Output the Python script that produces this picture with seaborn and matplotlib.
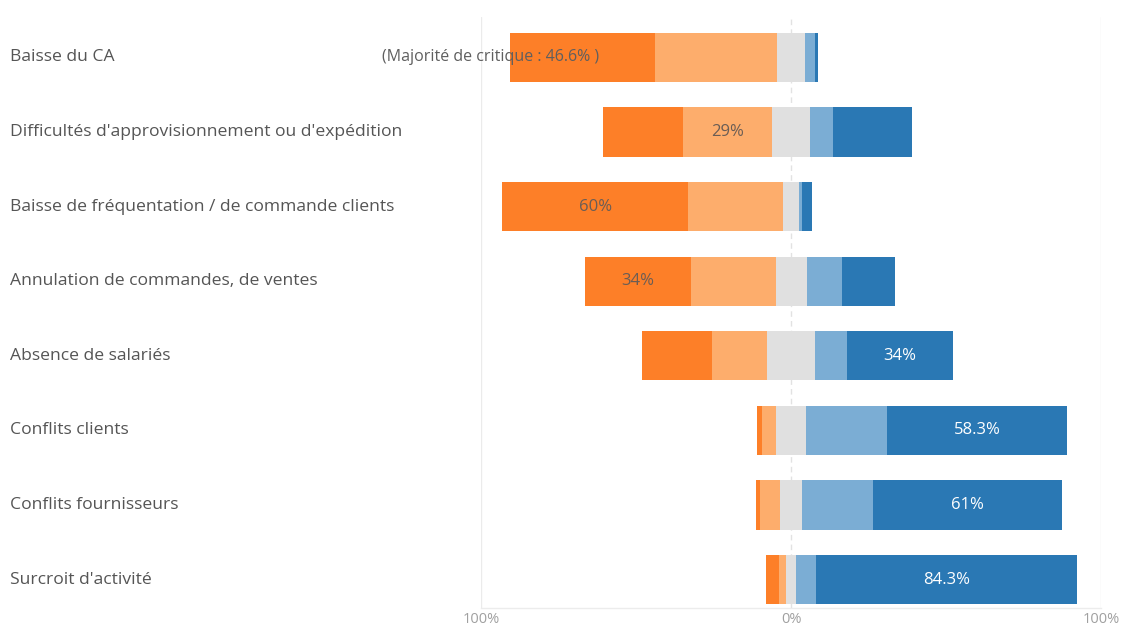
import matplotlib
matplotlib.use("Agg")
import matplotlib.pyplot as plt
import matplotlib.transforms as mtransforms
import pandas as pd
import seaborn as sns

# Données (en %)
categories = [
    "Baisse du CA",
    "Difficultés d'approvisionnement ou d'expédition",
    "Baisse de fréquentation / de commande clients",
    "Annulation de commandes, de ventes",
    "Absence de salariés",
    "Conflits clients",
    "Conflits fournisseurs",
    "Surcroit d'activité",
]
tres_negatif = [46.6, 25.8, 60.0, 34.0, 22.6, 1.4, 1.4, 4.1]
negatif = [39.4, 29.0, 30.5, 27.4, 17.7, 4.5, 6.5, 2.4]
neutre = [9.0, 12.0, 5.2, 10.0, 15.3, 9.9, 7.1, 3.0]
positif = [3.2, 7.5, 1.0, 11.5, 10.5, 25.9, 23.0, 6.5]
tres_positif = [1.0, 25.4, 3.2, 16.9, 34.0, 58.3, 61.0, 84.3]

# Étiquettes affichées dans les barres
etiquettes = ["", "29%", "60%", "34%", "34%", "58.3%", "61%", "84.3%"]
segments_etiquetes = [None, "negatif", "tres_negatif", "tres_negatif",
                      "tres_positif", "tres_positif", "tres_positif", "tres_positif"]
note_majorite = "(Majorité de critique : 46.6% )"

COULEURS = {
    "tres_negatif": "#fd7f28",
    "negatif": "#fdad6c",
    "neutre": "#e0e0e0",
    "positif": "#7badd4",
    "tres_positif": "#2a78b4",
}

sns.set_style("white")
plt.rcParams["font.family"] = ["Open Sans", "DejaVu Sans"]

df = pd.DataFrame({
    "categorie": categories,
    "tres_negatif": tres_negatif,
    "negatif": negatif,
    "neutre": neutre,
    "positif": positif,
    "tres_positif": tres_positif,
})
# Bornes cumulées de part et d'autre de 0 (le neutre est centré sur 0)
df["demi_neutre"] = df["neutre"] / 2
df["fin_negatif"] = -(df["demi_neutre"] + df["negatif"])
df["fin_tres_negatif"] = df["fin_negatif"] - df["tres_negatif"]
df["fin_positif"] = df["demi_neutre"] + df["positif"]
df["fin_tres_positif"] = df["fin_positif"] + df["tres_positif"]

fig = plt.figure(figsize=(11.21, 6.27), dpi=100)
ax = fig.add_axes([481 / 1121, 1 - 608 / 627, 620 / 1121, (608 - 17) / 627])

largeur = 0.66
couches = [
    ("fin_tres_negatif", "tres_negatif"),
    ("fin_negatif", "negatif"),
    ("fin_tres_positif", "tres_positif"),
    ("fin_positif", "positif"),
]
for col, seg in couches:
    sns.barplot(data=df, x=col, y="categorie", order=categories, orient="h",
                color=COULEURS[seg], saturation=1, width=largeur,
                linewidth=0, ax=ax)
# neutre : de -n/2 à +n/2
df["neg_demi_neutre"] = -df["demi_neutre"]
for col in ["demi_neutre", "neg_demi_neutre"]:
    sns.barplot(data=df, x=col, y="categorie", order=categories, orient="h",
                color=COULEURS["neutre"], saturation=1, width=largeur,
                linewidth=0, ax=ax)

# Grille verticale
for xv in (-100, 100):
    ax.axvline(xv, color="#ebebeb", lw=1, zorder=0)
ax.axvline(0, color="#e2e2e2", lw=1, ls=(0, (4, 3)), zorder=0)

# Étiquettes de valeurs
centres = {
    "tres_negatif": (df["fin_tres_negatif"] + df["fin_negatif"]) / 2,
    "negatif": (df["fin_negatif"] - df["demi_neutre"]) / 2,
    "positif": (df["demi_neutre"] + df["fin_positif"]) / 2,
    "tres_positif": (df["fin_positif"] + df["fin_tres_positif"]) / 2,
}
for i, (txt, seg) in enumerate(zip(etiquettes, segments_etiquetes)):
    if not txt:
        continue
    coul = "white" if seg in ("tres_positif", "positif") else "#6a5d55"
    ax.text(centres[seg][i], i, txt, ha="center", va="center",
            fontsize=12, color=coul)

ax.text(-96.8, 0, note_majorite, ha="center", va="center",
        fontsize=11.5, color="#5f5f5f")

# Libellés des catégories alignés à gauche
trans = mtransforms.blended_transform_factory(fig.transFigure, ax.transData)
for i, cat in enumerate(categories):
    ax.text(10 / 1121, i, cat, transform=trans, ha="left", va="center",
            fontsize=12.6, color="#555555")

ax.set_xlim(-100, 100)
ax.set_ylim(7.38, -0.54)
ax.set_yticks([])
ax.set_ylabel("")
ax.set_xlabel("")
ax.set_xticks([-100, 0, 100])
ax.set_xticklabels(["100%", "0%", "100%"], color="#a0a0a0", fontsize=10.5)
ax.tick_params(axis="x", length=0, pad=3)
for side in ("top", "left", "right"):
    ax.spines[side].set_visible(False)
ax.spines["bottom"].set_color("#ececec")
ax.spines["bottom"].set_linewidth(1)

fig.savefig("out.png", dpi=100)
